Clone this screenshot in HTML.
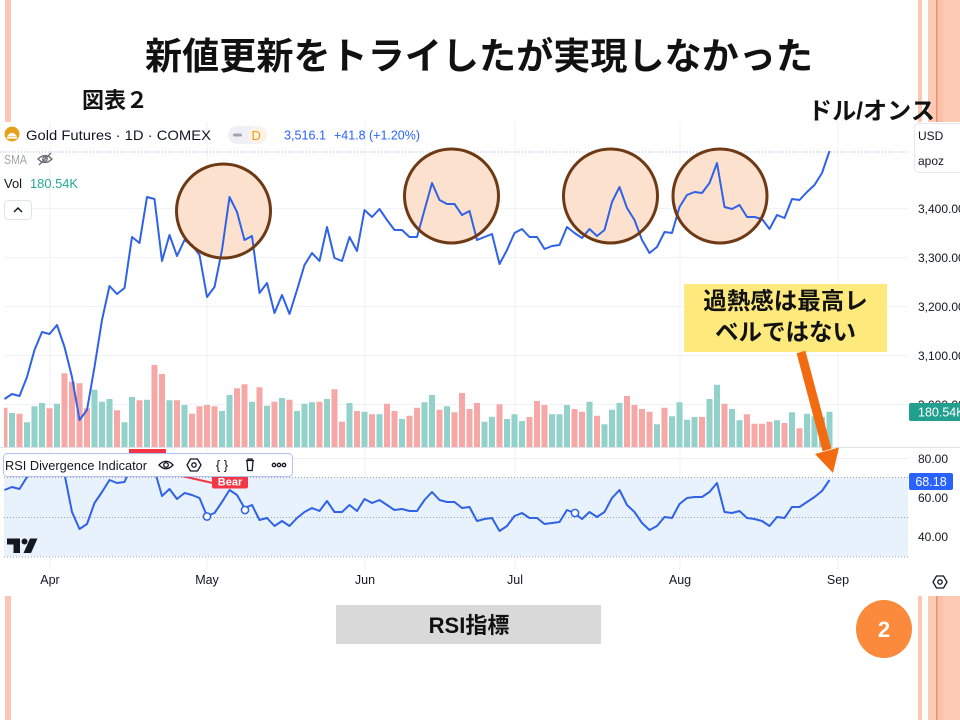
<!DOCTYPE html>
<html><head><meta charset="utf-8">
<style>
html,body{margin:0;padding:0;background:#fff;}
body{width:960px;height:720px;overflow:hidden;}
svg{display:block;}
.jp{font-family:"Liberation Sans","Noto Sans CJK JP",sans-serif;font-weight:bold;}
.tv{font-family:"Liberation Sans","DejaVu Sans",sans-serif;}
</style></head>
<body>
<svg width="960" height="720" viewBox="0 0 960 720" xmlns="http://www.w3.org/2000/svg">
<rect x="0" y="0" width="960" height="720" fill="#fff"/>
<!-- decorative stripes -->
<g>
<rect x="5" y="0" width="6" height="122" fill="#fbc6b2"/>
<rect x="5" y="596" width="6" height="124" fill="#fbc6b2"/>
<rect x="918" y="0" width="4" height="122" fill="#fdc8b4"/>
<rect x="928" y="0" width="32" height="122" fill="#fdcab6"/>
<rect x="936" y="0" width="1.5" height="122" fill="#e9926a"/>
<rect x="937.5" y="0" width="5.5" height="122" fill="#fbc0a8"/>
<rect x="918" y="596" width="4" height="124" fill="#fdc8b4"/>
<rect x="928" y="596" width="32" height="124" fill="#fdcab6"/>
<rect x="936" y="596" width="1.5" height="124" fill="#e9926a"/>
<rect x="937.5" y="596" width="5.5" height="124" fill="#fbc0a8"/>
</g>

<!-- titles -->
<text class="jp" x="479" y="69" font-size="37" text-anchor="middle" fill="#111" textLength="668" lengthAdjust="spacingAndGlyphs">新値更新をトライしたが実現しなかった</text>
<text class="jp" x="82" y="108" font-size="22" fill="#111">図表２</text>
<text class="jp" x="808" y="119" font-size="24" fill="#111" textLength="127" lengthAdjust="spacingAndGlyphs">ドル/オンス</text>

<!-- chart background -->
<rect x="0" y="122" width="960" height="474" fill="#fff"/>

<!-- grid -->
<g stroke="#f0f2f6" stroke-width="1">
<line x1="50" y1="122" x2="50" y2="570"/>
<line x1="207" y1="122" x2="207" y2="570"/>
<line x1="365" y1="122" x2="365" y2="570"/>
<line x1="515" y1="122" x2="515" y2="570"/>
<line x1="680" y1="122" x2="680" y2="570"/>
<line x1="838" y1="122" x2="838" y2="570"/>
<line x1="4" y1="208.5" x2="908" y2="208.5"/>
<line x1="4" y1="257.5" x2="908" y2="257.5"/>
<line x1="4" y1="306.5" x2="908" y2="306.5"/>
<line x1="4" y1="355.5" x2="908" y2="355.5"/>
<line x1="4" y1="404.5" x2="908" y2="404.5"/>
</g>

<!-- header -->
<circle cx="12" cy="134" r="7.5" fill="#e3a21a"/>
<path d="M7 136.5 Q12 129 17 136.5 Z" fill="#fff"/>
<rect x="7" y="137" width="10" height="1.6" fill="#fff"/>
<text class="tv" x="26" y="140" font-size="14" fill="#131722" textLength="185" lengthAdjust="spacingAndGlyphs">Gold Futures · 1D · COMEX</text>
<rect x="228" y="126" width="39" height="18" rx="9" fill="#eef0f5"/>
<rect x="248" y="126" width="19" height="18" rx="9" fill="#fbf3ea"/>
<rect x="233" y="133.5" width="9" height="3" rx="1.5" fill="#a0a3ab"/>
<text class="tv" x="251.5" y="140" font-size="13" fill="#ff9800">D</text>
<text class="tv" x="284" y="139.5" font-size="13" fill="#2962ff" textLength="42" lengthAdjust="spacingAndGlyphs">3,516.1</text>
<text class="tv" x="334" y="139.5" font-size="13" fill="#2962ff" textLength="86" lengthAdjust="spacingAndGlyphs">+41.8 (+1.20%)</text>
<line x1="0" y1="152" x2="908" y2="152" stroke="#9fb6f6" stroke-width="1" stroke-dasharray="1,2"/>
<text class="tv" x="4" y="164" font-size="13" fill="#a3a6ae" textLength="23" lengthAdjust="spacingAndGlyphs">SMA</text>
<g fill="none" stroke="#6a6d78" stroke-width="1.3">
<path d="M38 159 Q45 152 52 159 Q45 166 38 159 Z"/>
<circle cx="45" cy="159" r="2.2"/>
<line x1="39" y1="165" x2="51" y2="153"/>
</g>
<text class="tv" x="4" y="188" font-size="13" fill="#131722">Vol</text>
<text class="tv" x="30" y="188" font-size="13" fill="#22ab94" textLength="48" lengthAdjust="spacingAndGlyphs">180.54K</text>
<rect x="4.5" y="200.5" width="27" height="19" rx="4" fill="#fff" stroke="#e0e3eb"/>
<polyline points="14,212 18,208 22,212" fill="none" stroke="#131722" stroke-width="1.5"/>

<!-- volume bars -->
<path fill="#f5a8a5" d="M4 407.7h3.5V447h-3.5z M16.5 413.7h6V447h-6z M46.5 408.3h6V447h-6z M61.5 373.3h6V447h-6z M69 381.7h6V447h-6z M76.5 383.3h6V447h-6z M84 408.3h6V447h-6z M114 410.3h6V447h-6z M136.5 400.3h6V447h-6z M151.5 365h6V447h-6z M159 374h6V447h-6z M174 400.3h6V447h-6z M189 413.7h6V447h-6z M196.5 406.3h6V447h-6z M204 405h6V447h-6z M211.5 406.3h6V447h-6z M234 388.3h6V447h-6z M241.5 384.3h6V447h-6z M256.5 387.3h6V447h-6z M271.5 401.7h6V447h-6z M286.5 399.7h6V447h-6z M316.5 401.7h6V447h-6z M331.5 389.3h6V447h-6z M339 421.7h6V447h-6z M354 411h6V447h-6z M369 414.3h6V447h-6z M384 403.7h6V447h-6z M391.5 411h6V447h-6z M406.5 415.7h6V447h-6z M414 407.7h6V447h-6z M436.5 409.7h6V447h-6z M451.5 412.3h6V447h-6z M459 393h6V447h-6z M466.5 409h6V447h-6z M474 403h6V447h-6z M496.5 404.3h6V447h-6z M526.5 417h6V447h-6z M534 401h6V447h-6z M541.5 405h6V447h-6z M571.5 409h6V447h-6z M579 411.7h6V447h-6z M594 415.7h6V447h-6z M624 396h6V447h-6z M631.5 405h6V447h-6z M639 409h6V447h-6z M646.5 411.7h6V447h-6z M661.5 407.7h6V447h-6z M699 417h6V447h-6z M721.5 403.7h6V447h-6z M744 414.3h6V447h-6z M751.5 423.7h6V447h-6z M759 423.7h6V447h-6z M766.5 421.7h6V447h-6z M781.5 423h6V447h-6z M796.5 428.3h6V447h-6z"/>
<path fill="#92d2ca" d="M9 413h6V447h-6z M24 422.3h6V447h-6z M31.5 406.3h6V447h-6z M39 403h6V447h-6z M54 403.7h6V447h-6z M91.5 389.7h6V447h-6z M99 401.7h6V447h-6z M106.5 399h6V447h-6z M121.5 422.3h6V447h-6z M129 397h6V447h-6z M144 399.7h6V447h-6z M166.5 400.3h6V447h-6z M181.5 405h6V447h-6z M219 411h6V447h-6z M226.5 395h6V447h-6z M249 401.7h6V447h-6z M264 405.7h6V447h-6z M279 398h6V447h-6z M294 411h6V447h-6z M301.5 403.7h6V447h-6z M309 402.3h6V447h-6z M324 399h6V447h-6z M346.5 403h6V447h-6z M361.5 411.7h6V447h-6z M376.5 414.3h6V447h-6z M399 419h6V447h-6z M421.5 402.3h6V447h-6z M429 395h6V447h-6z M444 406.3h6V447h-6z M481.5 421.7h6V447h-6z M489 416.7h6V447h-6z M504 419h6V447h-6z M511.5 414.3h6V447h-6z M519 421h6V447h-6z M549 414.3h6V447h-6z M556.5 414.3h6V447h-6z M564 405h6V447h-6z M586.5 401.7h6V447h-6z M601.5 424.3h6V447h-6z M609 409.7h6V447h-6z M616.5 403h6V447h-6z M654 424.3h6V447h-6z M669 416.3h6V447h-6z M676.5 402.3h6V447h-6z M684 419.7h6V447h-6z M691.5 417h6V447h-6z M706.5 399h6V447h-6z M714 384.7h6V447h-6z M729 409h6V447h-6z M736.5 420.3h6V447h-6z M774 420.3h6V447h-6z M789 412.3h6V447h-6z M804 413.7h6V447h-6z M811.5 416.3h6V447h-6z M819 417h6V447h-6z M826.5 411.7h6V447h-6z"/>
<line x1="0" y1="447.5" x2="960" y2="447.5" stroke="#dfe2ea" stroke-width="1"/>

<!-- highlight circle fills -->
<g fill="#fce1cf">
<circle cx="223.5" cy="211" r="47"/>
<circle cx="451.5" cy="196" r="47"/>
<circle cx="610.5" cy="196" r="47"/>
<circle cx="720" cy="196" r="47"/>
</g>

<!-- price line -->
<polyline fill="none" stroke="#2f62e6" stroke-width="2" stroke-linejoin="round" points="4.5,399 12,394 19.5,396 27,377 34.5,350 42,332 49.5,334 57,325 64.5,347 72,377 79.5,420 87,410 94.5,367 102,320 109.5,286 117,294 124.5,288 132,237 139.5,243 147,197 154.5,199 162,261 169.5,235 177,256 184.5,240 192,245 199.5,255 207,297 214.5,287 222,250 229.5,197 237,212 244.5,240 252,236 259.5,293 267,283 274.5,313 282,295 289.5,314 297,290 304.5,265 312,253 319.5,261 327,227 334.5,258 342,261 349.5,237 357,251 364.5,210 372,217 379.5,209 387,220 394.5,230 402,230 409.5,237 417,237 424.5,210 432,183 439.5,200 447,204 454.5,204 462,215 469.5,211 477,240 484.5,237 492,234 499.5,264 507,250 514.5,233 522,229 529.5,237 537,237 544.5,249 552,246 559.5,245 567,227 574.5,233 582,238 589.5,229 597,236 604.5,230 612,202 619.5,187 627,208 634.5,220 642,240 649.5,253 657,247 664.5,232 672,233 679.5,207 687,195 694.5,192 702,193 709.5,183 717,163 724.5,207 732,209 739.5,205 747,217 754.5,217 762,219 769.5,229 777,215 784.5,218 792,199 799.5,200 807,192 814.5,185 822,173 829.5,151"/>

<!-- highlight circle strokes -->
<g fill="none" stroke="#6e3a16" stroke-width="3">
<circle cx="223.5" cy="211" r="47"/>
<circle cx="451.5" cy="196" r="47"/>
<circle cx="610.5" cy="196" r="47"/>
<circle cx="720" cy="196" r="47"/>
</g>

<!-- price axis -->
<g class="tv" font-size="12" fill="#131722">
<text x="918" y="213">3,400.00</text>
<text x="918" y="262">3,300.00</text>
<text x="918" y="311">3,200.00</text>
<text x="918" y="360">3,100.00</text>
<text x="918" y="409">3,000.00</text>
</g>
<rect x="909" y="403" width="55" height="18" rx="2" fill="#22a08f"/>
<text class="tv" x="918" y="416.5" font-size="12.5" fill="#fff">180.54K</text>
<rect x="914.5" y="123.5" width="50" height="49" rx="4" fill="#fff" stroke="#e6e8ee"/>
<text class="tv" x="918" y="140" font-size="12" fill="#131722">USD</text>
<text class="tv" x="918" y="165" font-size="12" fill="#131722">apoz</text>

<!-- RSI pane -->
<rect x="4" y="477.5" width="904" height="79" fill="#e8f2fd"/>
<g stroke="#eceff5" stroke-width="1">
<line x1="4" y1="458.5" x2="908" y2="458.5"/>
<line x1="4" y1="497.5" x2="908" y2="497.5"/>
<line x1="4" y1="537.5" x2="908" y2="537.5"/>
</g>
<g stroke="#9fa3ad" stroke-width="1" stroke-dasharray="1,2">
<line x1="4" y1="477.5" x2="908" y2="477.5"/>
<line x1="4" y1="517.5" x2="908" y2="517.5"/>
<line x1="4" y1="557" x2="908" y2="557"/>
</g>
<rect x="129" y="449" width="37" height="12" fill="#f23645"/>
<line x1="147" y1="468" x2="230" y2="487" stroke="#f23645" stroke-width="2"/>
<polyline fill="none" stroke="#2f62e6" stroke-width="2" stroke-linejoin="round" points="4.5,490 12,487 19.5,489 27,477 34.5,468 42,460 49.5,462 57,466 64.5,474 72,512 79.5,529 87,524 94.5,503 102,492 109.5,480 117,483 124.5,482 132,465 139.5,468 147,455 154.5,470 162,496 169.5,489 177,499 184.5,493 192,495 199.5,498 207,516 214.5,513 222,502 229.5,490 237,495 244.5,508 252,505 259.5,520 267,518 274.5,526 282,521 289.5,526 297,518 304.5,512 312,508 319.5,511 327,501 334.5,512 342,512 349.5,505 357,511 364.5,499 372,503 379.5,500 387,505 394.5,510 402,509 409.5,511 417,511 424.5,500 432,492 439.5,500 447,502 454.5,502 462,508 469.5,507 477,521 484.5,519 492,518 499.5,531 507,526 514.5,516 522,513 529.5,518 537,518 544.5,524 552,523 559.5,522 567,510 574.5,513 582,519 589.5,512 597,517 604.5,512 612,498 619.5,490 627,505 634.5,512 642,523 649.5,530 657,526 664.5,517 672,518 679.5,504 687,498 694.5,497 702,497 709.5,492 717,483 724.5,512 732,513 739.5,511 747,518 754.5,519 762,521 769.5,526 777,517 784.5,518 792,507 799.5,507 807,502 814.5,497 822,491 829.5,480"/>
<g fill="#fff" stroke="#2f62e6" stroke-width="1.5">
<circle cx="207" cy="516.5" r="3.6"/>
<circle cx="245" cy="510" r="3.6"/>
<circle cx="575" cy="513" r="3.6"/>
</g>
<rect x="212" y="475" width="36" height="13.5" rx="2" fill="#f23645"/>
<text class="tv" x="230" y="485.5" font-size="11" font-weight="bold" fill="#fff" text-anchor="middle">Bear</text>

<!-- indicator toolbar -->
<rect x="3.5" y="453.5" width="289" height="23" rx="4" fill="#fff" stroke="#b3c2f3"/>
<text class="tv" x="5" y="470" font-size="13" fill="#131722" textLength="142" lengthAdjust="spacingAndGlyphs">RSI Divergence Indicator</text>
<g fill="none" stroke="#131722" stroke-width="1.3">
<path d="M159 465 Q166 457.5 173 465 Q166 472.5 159 465 Z"/>
<circle cx="166" cy="465" r="2.3"/>
<path d="M190.5 459 L197.5 459 L201 465 L197.5 471 L190.5 471 L187 465 Z"/>
<circle cx="194" cy="465" r="2.2"/>
<path d="M246 460.5 h8 M248 460.5 v-1.5 h4 v1.5 M247 461 l0.8 9.5 h4.4 l0.8 -9.5"/>
<circle cx="274" cy="465" r="1.7"/>
<circle cx="279" cy="465" r="1.7"/>
<circle cx="284" cy="465" r="1.7"/>
</g>
<text class="tv" x="222" y="469.5" font-size="13" fill="#131722" text-anchor="middle">{ }</text>

<!-- TV logo -->
<path d="M7 538.5h13v14.5h-6.5v-8.5H7z" fill="#131722"/>
<circle cx="24.5" cy="541.5" r="3" fill="#131722"/>
<path d="M30 538.5h7.5l-6.5 14.5h-7.5z" fill="#131722"/>

<!-- RSI axis -->
<g class="tv" font-size="12" fill="#131722">
<text x="918" y="463">80.00</text>
<text x="918" y="502">60.00</text>
<text x="918" y="541">40.00</text>
</g>
<rect x="909" y="473" width="44" height="17" rx="2" fill="#2962ff"/>
<text class="tv" x="931" y="486" font-size="12.5" fill="#fff" text-anchor="middle">68.18</text>

<!-- time axis -->
<g class="tv" font-size="12.5" fill="#131722" text-anchor="middle">
<text x="50" y="584">Apr</text>
<text x="207" y="584">May</text>
<text x="365" y="584">Jun</text>
<text x="515" y="584">Jul</text>
<text x="680" y="584">Aug</text>
<text x="838" y="584">Sep</text>
</g>
<g fill="none" stroke="#131722" stroke-width="1.3">
<path d="M936.5 576 L943.5 576 L947 582 L943.5 588 L936.5 588 L933 582 Z"/>
<circle cx="940" cy="582" r="2.2"/>
</g>

<!-- callout -->
<rect x="684" y="284" width="203" height="68" fill="#fde97c"/>
<text class="jp" x="785.5" y="309" font-size="23.5" fill="#111" text-anchor="middle">過熱感は最高レ</text>
<text class="jp" x="785.5" y="340" font-size="23.5" fill="#111" text-anchor="middle">ベルではない</text>
<polygon points="796.6,353.2 805.4,350.8 831.4,448.8 822.6,451.2" fill="#f36b10"/>
<polygon points="815,454 839,447.5 833,473" fill="#f36b10"/>

<!-- bottom -->
<rect x="336" y="605" width="265" height="39" fill="#d9d9d9"/>
<text class="jp" x="469" y="633" font-size="22" fill="#111" text-anchor="middle">RSI指標</text>
<ellipse cx="884" cy="629" rx="28" ry="29" fill="#fb8a3c"/>
<text class="tv" x="884" y="637" font-size="22" font-weight="bold" fill="#fff" text-anchor="middle">2</text>
</svg>
</body></html>
